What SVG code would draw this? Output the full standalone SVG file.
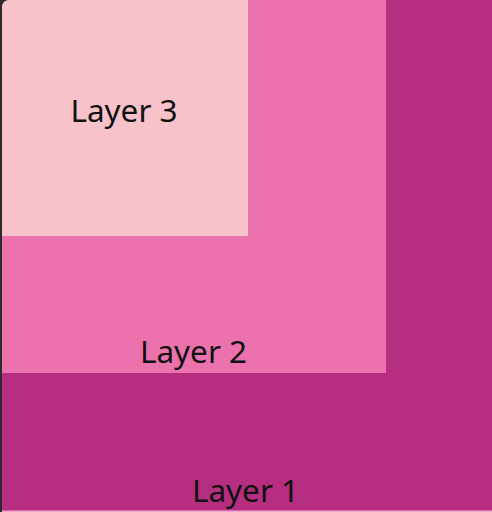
<svg xmlns="http://www.w3.org/2000/svg" width="492" height="512" viewBox="0 0 492 512">
  <style>
    .lbl { font-family: "Noto Sans", "Liberation Sans", sans-serif; font-size: 31.5px; fill: #111111; text-anchor: middle; }
  </style>
  <defs>
    <clipPath id="frame">
      <path d="M2 8 Q2 0 10 0 H492 V512 H2 Z"/>
    </clipPath>
  </defs>
  <rect x="0" y="0" width="492" height="512" fill="#2b2b2b"/>
  <g clip-path="url(#frame)">
    <g id="layer1">
      <rect x="0" y="0" width="492" height="512" fill="#b62e7f"/>
      <text class="lbl" x="245.5" y="502">Layer 1</text>
    </g>
    <g id="layer2">
      <rect x="0" y="0" width="386" height="373" fill="#ec72ae"/>
      <text class="lbl" x="193.5" y="363">Layer 2</text>
    </g>
    <g id="layer3">
      <rect x="0" y="0" width="248" height="236" fill="#f7c2ca"/>
      <text class="lbl" x="124" y="122">Layer 3</text>
    </g>
    <rect x="0" y="510.5" width="492" height="1.5" fill="#f2a6cf"/>
  </g>
</svg>
